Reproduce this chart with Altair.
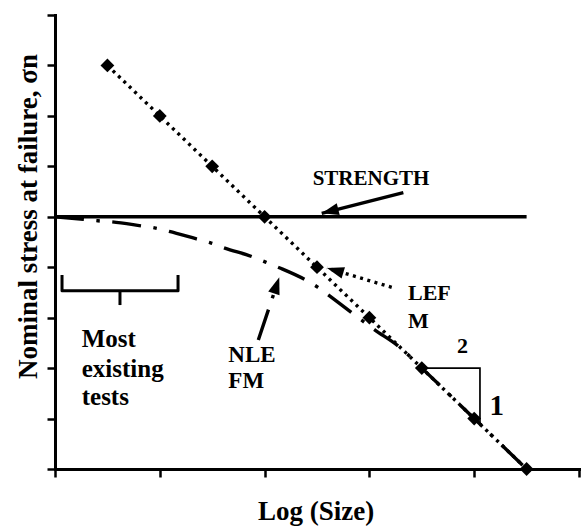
import math
import altair as alt
import pandas as pd

# ---------------- data ----------------
lefm_x = [0.5, 1.0, 1.5, 2.0, 2.5, 3.0, 3.5, 4.0, 4.5]
lefm_y = [8, 7, 6, 5, 4, 3, 2, 1, 0]

strength_x = [0.0, 4.5]
strength_y = [5.0, 5.0]

nlefm_x = [0.0, 0.27, 0.41, 0.54, 0.82, 0.95, 1.09, 1.35, 1.49, 1.62, 1.88,
           2.01, 2.14, 2.39, 2.51, 2.62, 2.83, 3.05, 3.28, 3.5, 4.0, 4.5]
nlefm_y = [5.0, 4.95, 4.92, 4.90, 4.82, 4.78, 4.71, 4.56, 4.48, 4.38, 4.21,
           4.10, 3.99, 3.75, 3.60, 3.43, 3.10, 2.76, 2.43, 2.0, 1.0, 0.0]

x_ticks = [0, 1, 2, 3, 4, 5]
y_ticks = [0, 1, 2, 3, 4, 5, 6, 7, 8, 9]

# ---------------- layout ----------------
W, H = 524, 454
PX_X = W / 5.0
PX_Y = H / 9.0
FONT = "Liberation Serif, Times New Roman, serif"
ARROW = "M0,0L0.7,2L-0.7,2Z"

xs = alt.Scale(domain=[0, 5], nice=False, zero=False)
ys = alt.Scale(domain=[0, 9], nice=False, zero=False)

x_axis = alt.Axis(values=x_ticks, labels=False, grid=False, title="Log (Size)",
                  titleX=260.7, titleY=50, titleAlign="center",
                  titleBaseline="alphabetic", titleFontSize=27)
y_axis = alt.Axis(values=y_ticks, labels=False, grid=False,
                  title="Nominal stress at failure, σn",
                  titleX=-27, titleY=201, titleAngle=270, titleAlign="center",
                  titleBaseline="middle", titleFontSize=27)


def XY():
    return dict(
        x=alt.X("x:Q", scale=xs, axis=x_axis),
        y=alt.Y("y:Q", scale=ys, axis=y_axis),
    )


def line_df(xv, yv):
    return pd.DataFrame({"x": xv, "y": yv, "o": list(range(len(xv)))})


strength = alt.Chart(line_df(strength_x, strength_y)).mark_line(
    color="black", strokeWidth=3.5
).encode(**XY(), order="o:Q")

lefm = alt.Chart(line_df(lefm_x, lefm_y)).mark_line(
    color="black", strokeWidth=3.4, strokeDash=[3, 4.5]
).encode(**XY(), order="o:Q")

nlefm = alt.Chart(line_df(nlefm_x, nlefm_y)).mark_line(
    color="black", strokeWidth=3.4, strokeDash=[29, 12.5, 3.5, 12.5],
    interpolate="monotone"
).encode(**XY(), order="o:Q")

points = alt.Chart(pd.DataFrame({"x": lefm_x, "y": lefm_y})).mark_point(
    shape="diamond", filled=True, color="black", size=190, opacity=1
).encode(**XY())

# ---------------- annotations ----------------
def angle_of(x0, y0, x1, y1):
    dx = (x1 - x0) * PX_X
    dy = -(y1 - y0) * PX_Y
    return math.degrees(math.atan2(dx, -dy)) % 360


arrows = [
    (3.324, 5.478, 2.545, 5.069, "solid"),
    (3.213, 3.602, 2.595, 3.985, "dot"),
    (1.940, 2.558, 2.140, 3.800, "dashdot"),
]

layers = [strength, nlefm, lefm, points]

dash_map = {"solid": None, "dot": [3, 4.5], "dashdot": [32, 12, 3.5, 30]}
for tx, ty, hx, hy, kind in arrows:
    df = pd.DataFrame({"x": [tx], "y": [ty], "x2": [hx], "y2": [hy]})
    kw = dict(color="black", strokeWidth=3.4)
    if dash_map[kind] is not None:
        kw["strokeDash"] = dash_map[kind]
    layers.append(
        alt.Chart(df).mark_rule(**kw).encode(**XY(), x2="x2:Q", y2="y2:Q")
    )
    hdf = pd.DataFrame({"x": [hx], "y": [hy], "a": [angle_of(tx, ty, hx, hy)]})
    layers.append(
        alt.Chart(hdf).mark_point(
            shape=ARROW, filled=True, color="black", size=290, opacity=1, strokeWidth=0
        ).encode(**XY(), angle=alt.Angle("a:Q", scale=None))
    )

brace = alt.Chart(line_df([0.067, 0.067, 1.174, 1.174], [3.846, 3.535, 3.535, 3.846])).mark_line(
    color="black", strokeWidth=3, strokeJoin="round"
).encode(**XY(), order="o:Q")
brace_tick = alt.Chart(pd.DataFrame({"x": [0.62], "y": [3.535], "y2": [3.25]})).mark_rule(
    color="black", strokeWidth=3
).encode(**XY(), y2="y2:Q")

tri = alt.Chart(line_df([3.5, 4.055, 4.055], [2.0, 2.0, 0.89])).mark_line(
    color="black", strokeWidth=1.7
).encode(**XY(), order="o:Q")

layers += [brace, brace_tick, tri]


def text_layer(xv, yv, tv, size, align="left"):
    df = pd.DataFrame({"x": xv, "y": yv, "t": tv})
    return alt.Chart(df).mark_text(
        font=FONT, fontWeight="bold", fontSize=size, color="black",
        align=align, baseline="alphabetic"
    ).encode(**XY(), text="t:N")


layers += [
    text_layer([3.015], [5.63], ["STRENGTH"], 21, "center"),
    text_layer([3.368, 3.368], [3.35, 2.79], ["LEF", "M"], 22),
    text_layer([1.654, 1.654], [2.127, 1.60], ["NLE", "FM"], 23),
    text_layer([0.255, 0.255, 0.255], [2.413, 1.83, 1.27], ["Most", "existing", "tests"], 25),
    text_layer([3.888], [2.306], ["2"], 22, "center"),
    text_layer([4.215], [1.07], ["1"], 29, "center"),
]

chart = alt.layer(*layers).properties(
    width=W, height=H,
    autosize=alt.AutoSizeParams(type="none"),
    padding={"left": 55, "top": 15, "right": 5, "bottom": 57},
).configure_view(stroke=None).configure_axis(
    domainColor="black", domainWidth=3, tickColor="black", tickWidth=2.5,
    tickSize=8, titleFont=FONT, titleFontWeight="bold", titleColor="black",
    domainCap="square"
)

chart.save("out.html", embed_options={"renderer": "svg", "actions": False})
